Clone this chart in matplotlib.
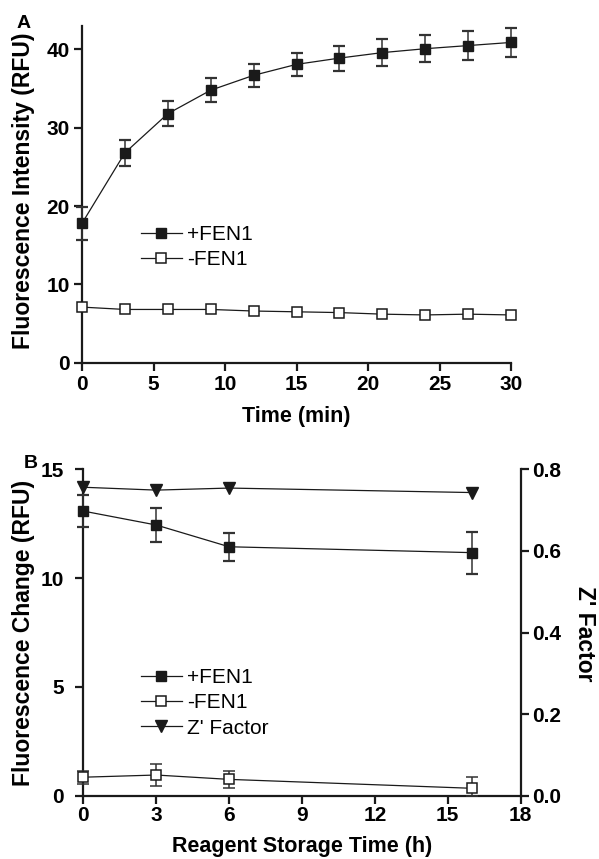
import numpy as np
import matplotlib
matplotlib.use("Agg")
import matplotlib.pyplot as plt
from matplotlib.lines import Line2D

plt.rcParams['font.family'] = ['Liberation Sans', 'DejaVu Sans']

# panel A data
time_min = [0, 3, 6, 9, 12, 15, 18, 21, 24, 27, 30]
plusA = [17.8, 26.8, 31.8, 34.8, 36.7, 38.1, 38.9, 39.6, 40.1, 40.5, 40.9]
plusA_err = [2.1, 1.7, 1.6, 1.5, 1.5, 1.5, 1.6, 1.7, 1.7, 1.8, 1.9]
minusA = [7.1, 6.8, 6.8, 6.8, 6.6, 6.5, 6.4, 6.2, 6.1, 6.2, 6.1]

# panel B data
storage_h = [0, 3, 6, 16]
plusB = [13.08, 12.44, 11.44, 11.17]
plusB_err = [0.75, 0.8, 0.65, 0.97]
minusB = [0.85, 0.95, 0.75, 0.34]
minusB_err = [0.3, 0.5, 0.4, 0.5]
zfactor = [0.756, 0.749, 0.754, 0.743]

W, H = 599, 859
fig = plt.figure(figsize=(W / 100, H / 100), dpi=100)
INK = '#1a1a1a'
TICK_FS = 15
LAB_FS = 15.5
YLAB_FS = 16.5
LEG_FS = 15

def px_axes(l, t, r, b):
    return fig.add_axes([l / W, 1 - b / H, (r - l) / W, (b - t) / H])

def style(ax, sides, xpad=3, ypad=3):
    for s in ['top', 'right', 'left', 'bottom']:
        ax.spines[s].set_visible(s in sides)
        ax.spines[s].set_linewidth(1.6)
        ax.spines[s].set_color(INK)
    ax.tick_params(direction='out', length=6, width=1.6, labelsize=TICK_FS, color=INK)
    ax.tick_params(axis='x', pad=xpad)
    ax.tick_params(axis='y', pad=ypad)
    for lab in ax.get_xticklabels() + ax.get_yticklabels():
        lab.set_fontweight('bold')

mk = dict(color=INK, lw=0.9, ms=7.5, clip_on=False, zorder=3)
eb = dict(ecolor='#333333', elinewidth=1.1, capsize=4.5, capthick=1.6)

h_plus = Line2D([], [], color=INK, lw=0.9, marker='s', ms=7.5, mfc=INK, mec=INK)
h_minus = Line2D([], [], color=INK, lw=0.9, marker='s', ms=7.5, mfc='white', mec=INK, mew=1.1)
h_z = Line2D([], [], color=INK, lw=0.9, marker='v', ms=8.5, mfc=INK, mec=INK)
leg_kw = dict(loc='upper left', bbox_transform=fig.transFigure, frameon=False,
              fontsize=LEG_FS, handlelength=1.95, handletextpad=0.25, labelspacing=0.3,
              borderpad=0, borderaxespad=0)

# ---- panel A
axA = px_axes(82, 26, 511, 362.7)
axA.errorbar(time_min, plusA, yerr=plusA_err, marker='s', mfc=INK, mec=INK, **mk, **eb)
axA.plot(time_min, minusA, marker='s', mfc='white', mec=INK, mew=1.1, **mk)
axA.set_xlim(0, 30)
axA.set_ylim(0, 43)
axA.set_xticks(range(0, 31, 5))
axA.set_yticks(range(0, 41, 10))
style(axA, ['left', 'bottom'], xpad=3, ypad=3)
axA.set_xlabel('Time (min)', fontsize=LAB_FS, fontweight='bold')
axA.xaxis.set_label_coords(0.5, 1 - (406 - 26) / 336.7)
axA.set_ylabel('Fluorescence Intensity (RFU)', fontsize=YLAB_FS, fontweight='bold', va='center')
axA.yaxis.set_label_coords((24 - 82) / 429, 0.51)
axA.legend([h_plus, h_minus], ['+FEN1', '-FEN1'], bbox_to_anchor=(141 / W, 1 - 225 / H), **leg_kw)
fig.text(24 / W, 1 - 24 / H, 'A', fontsize=14, fontweight='bold', ha='center', va='center')

# ---- panel B
axB = px_axes(83.3, 469.3, 520.7, 795.7)
axB2 = axB.twinx()
axB.errorbar(storage_h, plusB, yerr=plusB_err, marker='s', mfc=INK, mec=INK, **mk, **eb)
lowB = np.minimum(minusB_err, minusB)
axB.errorbar(storage_h, minusB, yerr=[lowB, minusB_err], marker='s', mfc='white',
             mec=INK, mew=1.1, **mk, **eb)
axB2.plot(storage_h, zfactor, marker='v', mfc=INK, mec=INK,
          **{**mk, 'ms': 8.5})
axB.set_xlim(0, 18)
axB.set_ylim(0, 15)
axB2.set_ylim(0, 0.8)
axB.set_xticks(range(0, 19, 3))
axB.set_yticks([0, 5, 10, 15])
axB2.set_yticks([0, 0.2, 0.4, 0.6, 0.8])
axB2.set_yticklabels(['0.0', '0.2', '0.4', '0.6', '0.8'])
style(axB, ['left', 'bottom'], xpad=1.5, ypad=8)
style(axB2, ['right'], ypad=2.5)
axB.set_xlabel('Reagent Storage Time (h)', fontsize=LAB_FS, fontweight='bold')
axB.xaxis.set_label_coords(0.5, 1 - (836 - 469.3) / 326.4)
axB.set_ylabel('Fluorescence Change (RFU)', fontsize=YLAB_FS, fontweight='bold', va='center')
axB.yaxis.set_label_coords((24 - 83.3) / 437.4, 0.5)
fig.text(585 / W, 1 - 634 / H, "Z' Factor", fontsize=YLAB_FS, fontweight='bold',
         rotation=-90, ha='center', va='center')
axB.legend([h_plus, h_minus, h_z], ['+FEN1', '-FEN1', "Z' Factor"],
           bbox_to_anchor=(141 / W, 1 - 668 / H), **leg_kw)
fig.text(31 / W, 1 - 463 / H, 'B', fontsize=14, fontweight='bold', ha='center', va='center')

fig.savefig('out.png', dpi=100)
